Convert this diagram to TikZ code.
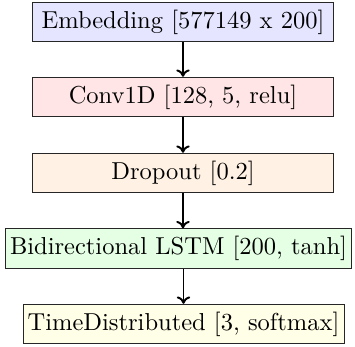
\documentclass[tikz,border=0pt]{standalone}
\usetikzlibrary{arrows.meta}
\begin{document}
\begin{tikzpicture}[x=1pt,y=1pt,
  layer/.style={draw=black!85, minimum width=122.9pt, inner xsep=1.9pt, inner ysep=3.05pt},
  flow/.style={-{To[length=3pt,width=5.5pt]}, thick}]
  \useasboundingbox (0,0) rectangle (144.9,-141.63);
  \node[layer, fill=blue!10]   (emb)  at (74.69,-8.98)   {Embedding [577149 x 200]};
  \node[layer, fill=red!10]    (conv) at (74.69,-39.59)  {Conv1D [128, 5, relu]};
  \node[layer, fill=orange!10] (drop) at (74.69,-70.61)  {Dropout [0.2]};
  \node[layer, fill=green!10]  (lstm) at (72.86,-101.43) {Bidirectional LSTM [200, tanh]};
  \node[layer, fill=yellow!10] (td)   at (74.9,-132.24)  {TimeDistributed [3, softmax]};
  \draw[flow] (emb) -- (conv);
  \draw[flow] (conv) -- (drop);
  \draw[flow] (drop.south) -- (drop.south |- lstm.north);
  \draw[flow] (lstm.south -| td.north) -- (td.north);
\end{tikzpicture}
\end{document}
